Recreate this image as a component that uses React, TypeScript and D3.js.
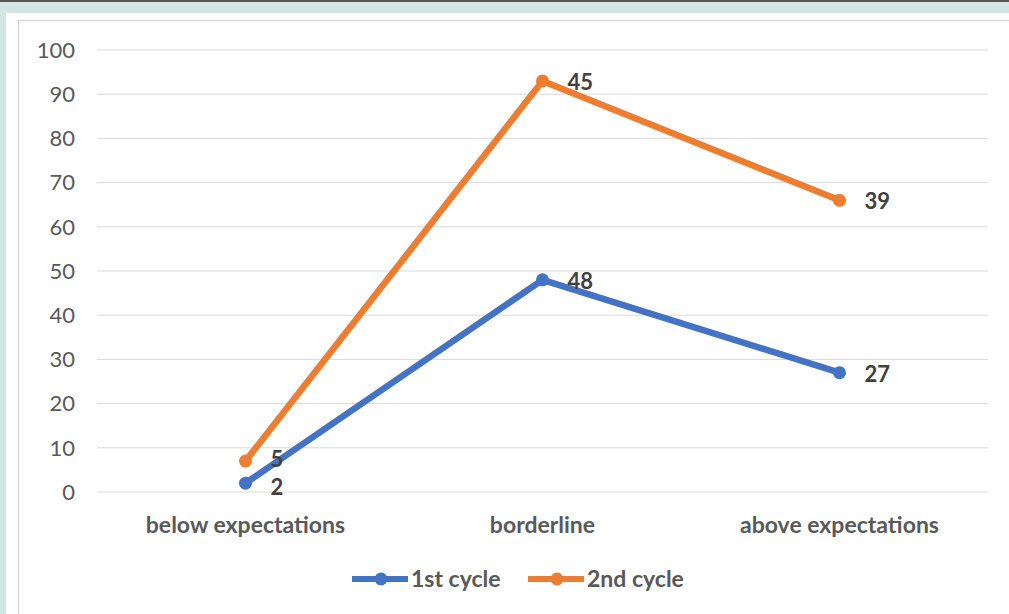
import React from "react";
import * as d3 from "d3";

const categories = ["below expectations", "borderline", "above expectations"];
const firstCycle = [2, 48, 27];
const secondCycle = [5, 45, 39];
const yTicks = [0, 10, 20, 30, 40, 50, 60, 70, 80, 90, 100];
const seriesNames = ["1st cycle", "2nd cycle"];
const seriesColors = ["#4472C4", "#ED7D31"];

const W = 1009;
const H = 614;
const FONT = "Lato, 'Open Sans', sans-serif";

export default function App() {
  const x = d3.scaleBand<string>().domain(categories).range([97, 988]);
  const y = d3.scaleLinear().domain([0, 100]).range([492, 50]);

  // stacked line series: second cycle sits on top of the first
  const stacked = d3
    .stack<number>()
    .keys(["a", "b"])
    .value((i, key) => (key === "a" ? firstCycle[i] : secondCycle[i]))(
    categories.map((_, i) => i)
  );

  const raw = [firstCycle, secondCycle];
  const cx = (i: number) => (x(categories[i]) ?? 0) + x.bandwidth() / 2;

  const line = d3
    .line<[number, number]>()
    .x((_, i) => cx(i))
    .y((d) => y(d[1]));

  const legendX = [352, 528];

  // vertical offset of a value label; the two labels at the first
  // category are pushed apart so they do not collide
  const labelDy = (si: number, i: number) => {
    if (i === 0) return si === 0 ? 4.5 : -1.5;
    return 1.5;
  };

  return (
    <svg
      width={W}
      height={H}
      style={{ position: "absolute", left: 0, top: 0, display: "block" }}
    >
      <rect x={0} y={0} width={W} height={H} fill="#D3E6E4" />
      <rect x={0} y={0} width={W} height={2} fill="#555" />
      <rect x={6} y={13} width={W - 6} height={H - 13} fill="#fff" />
      <path
        d={`M18.5,${H} V20.5 H${W}`}
        fill="none"
        stroke="#D9D9D9"
        strokeWidth={1.5}
      />

      {yTicks.map((t) => (
        <g key={t}>
          <line
            x1={97}
            x2={988}
            y1={y(t)}
            y2={y(t)}
            stroke="#D9D9D9"
            strokeWidth={1}
          />
          <text
            x={75}
            y={y(t)}
            dy="0.35em"
            textAnchor="end"
            fontFamily={FONT}
            fontSize={22}
            fill="#595959"
          >
            {t}
          </text>
        </g>
      ))}

      {categories.map((c, i) => (
        <text
          key={c}
          x={cx(i)}
          y={525}
          dy="0.35em"
          textAnchor="middle"
          fontFamily={FONT}
          fontSize={23}
          fontWeight="bold"
          fill="#595959"
        >
          {c}
        </text>
      ))}

      {stacked.map((s, si) => {
        const pts = s.map((d) => [d[0], d[1]] as [number, number]);
        return (
          <g key={si}>
            <path
              d={line(pts) ?? ""}
              fill="none"
              stroke={seriesColors[si]}
              strokeWidth={6.5}
              strokeLinejoin="round"
            />
            {pts.map((p, i) => (
              <circle
                key={i}
                cx={cx(i)}
                cy={y(p[1])}
                r={6.5}
                fill={seriesColors[si]}
              />
            ))}
            {pts.map((p, i) => (
              <text
                key={"l" + i}
                x={cx(i) + 25}
                y={y(p[1]) + labelDy(si, i)}
                dy="0.35em"
                fontFamily={FONT}
                fontSize={22}
                fontWeight="bold"
                fill="#404040"
              >
                {raw[si][i]}
              </text>
            ))}
          </g>
        );
      })}

      {seriesNames.map((n, i) => {
        const lx = legendX[i];
        return (
          <g key={n}>
            <line
              x1={lx}
              x2={lx + 56}
              y1={579}
              y2={579}
              stroke={seriesColors[i]}
              strokeWidth={6}
            />
            <circle cx={lx + 29} cy={579} r={6.5} fill={seriesColors[i]} />
            <text
              x={lx + 59}
              y={579}
              dy="0.35em"
              fontFamily={FONT}
              fontSize={23}
              fontWeight="bold"
              fill="#595959"
            >
              {n}
            </text>
          </g>
        );
      })}
    </svg>
  );
}
